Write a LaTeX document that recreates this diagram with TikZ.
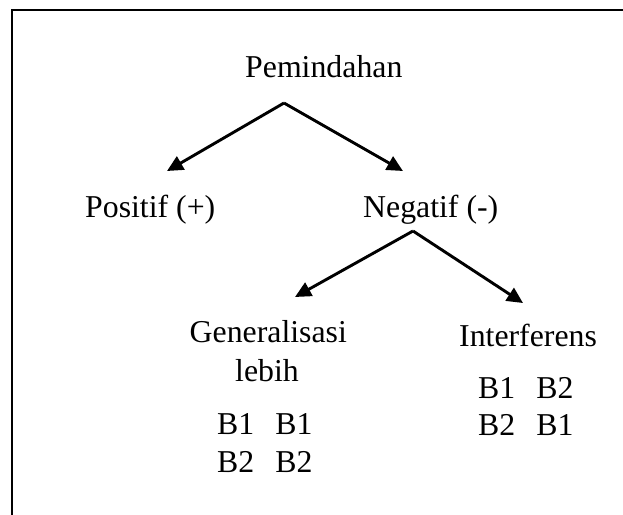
\documentclass[tikz,border=0pt]{standalone}
\usepackage{fontspec}
\setmainfont{Liberation Serif}
\usetikzlibrary{arrows.meta}
\begin{document}
\begin{tikzpicture}[x=1pt,y=-1pt,
  lbl/.style={anchor=base west,inner sep=0pt,font=\fontsize{31.8}{37}\selectfont},
  branch/.style={line width=2.9pt,-{Triangle[length=16pt,width=15pt]}}]
\useasboundingbox (0,0) rectangle (623,514);
\begin{scope}
  \clip (0,0) rectangle (623,514);
  \draw[line width=2.2pt] (11.8,10) rectangle (650,540);
\end{scope}
% labels
\node[lbl] (pem) at (245,77) {Pemindahan};
\node[lbl] (pos) at (85,217) {Positif (+)};
\node[lbl] (neg) at (363,217) {Negatif (-)};
\node[lbl] (gen) at (189.5,342) {Generalisasi};
\node[lbl] (leb) at (235,381) {lebih};
\node[lbl] (ga) at (217,434) {B1\hspace{21pt}B1};
\node[lbl] (gb) at (217,472) {B2\hspace{21pt}B2};
\node[lbl] (int) at (459,346) {Interferens};
\node[lbl] (ia) at (478,398) {B1\hspace{21pt}B2};
\node[lbl] (ib) at (478,435) {B2\hspace{21pt}B1};
% branch points and arrow ends
\coordinate (top1) at (284,103);
\coordinate (endpos) at (167,171);
\coordinate (endneg) at (403,171);
\coordinate (top2) at (413,231);
\coordinate (endgen) at (295,297);
\coordinate (endint) at (523,303);
\draw[branch] (top1) -- (endpos);
\draw[branch] (top1) -- (endneg);
\draw[branch] (top2) -- (endgen);
\draw[branch] (top2) -- (endint);
\end{tikzpicture}
\end{document}
